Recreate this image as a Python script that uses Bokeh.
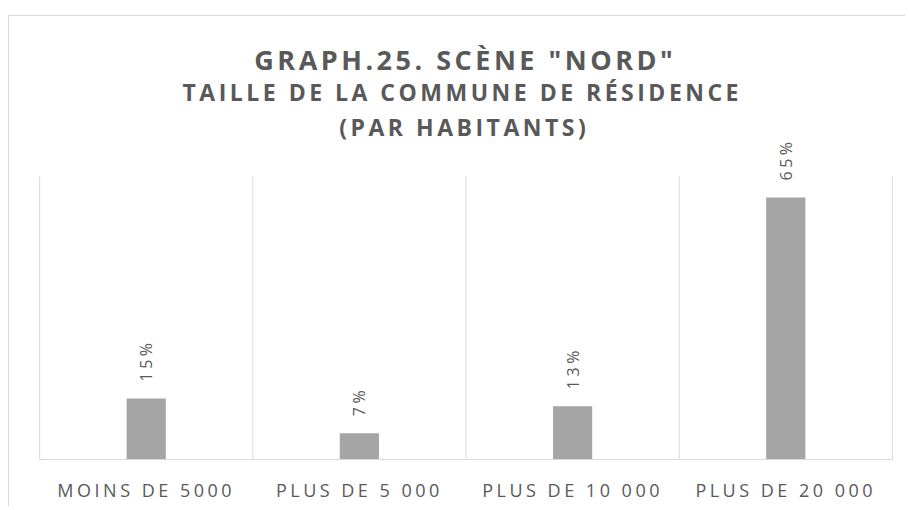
from math import pi
from bokeh.plotting import figure
from bokeh.models import Range1d, FixedTicker, Label, ColumnDataSource
from bokeh.core.properties import value
from bokeh.embed import file_html
from bokeh.resources import INLINE

# ---- data ----
categories = ["MOINS DE 5000", "PLUS DE 5 000", "PLUS DE 10 000", "PLUS DE 20 000"]
values = [15.1, 6.5, 13.2, 64.8]
labels = ["15%", "7%", "13%", "65%"]
title_lines = ['GRAPH.25. SCÈNE "NORD"',
               "TAILLE DE LA COMMUNE DE RÉSIDENCE",
               "(PAR HABITANTS)"]
y_max = 70

# ---- style ----
TXT = "#595959"
GRID = "#d9d9d9"
BAR = "#a5a5a5"
FONT = "Open Sans"
SP = 3.5            # letter spacing (px)
W, H = 905, 506
ML, MR, MT, MB = 37, 11, 20, 47
PAD = 0.01
n = len(categories)
frame_w = W - ML - MR
px_per_unit = frame_w / (n + 2 * PAD)
frame_h = H - MT - MB
px_per_y = (459 - 176) / y_max

p = figure(
    x_range=Range1d(-PAD, n + PAD),
    y_range=Range1d(0, frame_h / px_per_y),
    width=W, height=H,
    output_backend="svg", toolbar_location=None,
    min_border_left=ML, min_border_right=MR, min_border_top=MT, min_border_bottom=MB,
)
p.title = None
p.styles = {
    "letter-spacing": "%.1fpx" % SP,
    "background": "linear-gradient(#d9d9d9,#d9d9d9) 8px 15px / 100% 1px no-repeat, "
                  "linear-gradient(#d9d9d9,#d9d9d9) 8px 15px / 1px 100% no-repeat, #ffffff",
}
p.outline_line_color = None
p.background_fill_color = None
p.border_fill_color = None
p.xgrid.grid_line_color = None
p.ygrid.grid_line_color = None
p.yaxis.visible = False

centers = [i + 0.5 for i in range(n)]
source = ColumnDataSource(dict(x=centers, val=values, lab=labels))

# category separators
bounds = list(range(n + 1))
p.segment(x0=bounds, x1=bounds, y0=[0] * len(bounds), y1=[y_max] * len(bounds),
          line_color=GRID, line_width=1)

p.vbar(x="x", top="val", width=0.184, source=source, fill_color=BAR, line_color=None)

p.text(x="x", y="val", text="lab", source=source, angle=pi / 2,
       text_align="left", text_baseline="middle", y_offset=-17,
       text_font=value(FONT), text_font_size="16px", text_color=TXT)

# axis: tick positions compensate for letter spacing of centred labels
ticks = [c - len(cat) * SP / 2 / px_per_unit for c, cat in zip(centers, categories)]
ax = p.xaxis[0]
ax.ticker = FixedTicker(ticks=ticks)
ax.major_label_overrides = {t: cat for t, cat in zip(ticks, categories)}
ax.bounds = (0, n)
ax.axis_line_color = GRID
ax.major_tick_line_color = None
ax.minor_tick_line_color = None
ax.major_tick_out = 0
ax.major_tick_in = 0
ax.major_label_standoff = 18
ax.major_label_text_font = FONT
ax.major_label_text_font_size = "18px"
ax.major_label_text_color = TXT

# titles (canvas units from top-left)
title_sizes = ["27px", "23px", "23px"]
title_baselines = [68.7, 101.7, 136.7]
title_centers = [463, 460, 462]
for txt, fs, by, cx in zip(title_lines, title_sizes, title_baselines, title_centers):
    p.add_layout(Label(
        x=cx - (len(txt) - 1) * SP / 2, y=by - 10,
        x_units="canvas", y_units="canvas", text=txt,
        text_align="center", text_baseline="alphabetic",
        text_font=FONT, text_font_style="bold", text_font_size=fs, text_color=TXT))

open("out.html", "w").write(file_html(p, INLINE))
